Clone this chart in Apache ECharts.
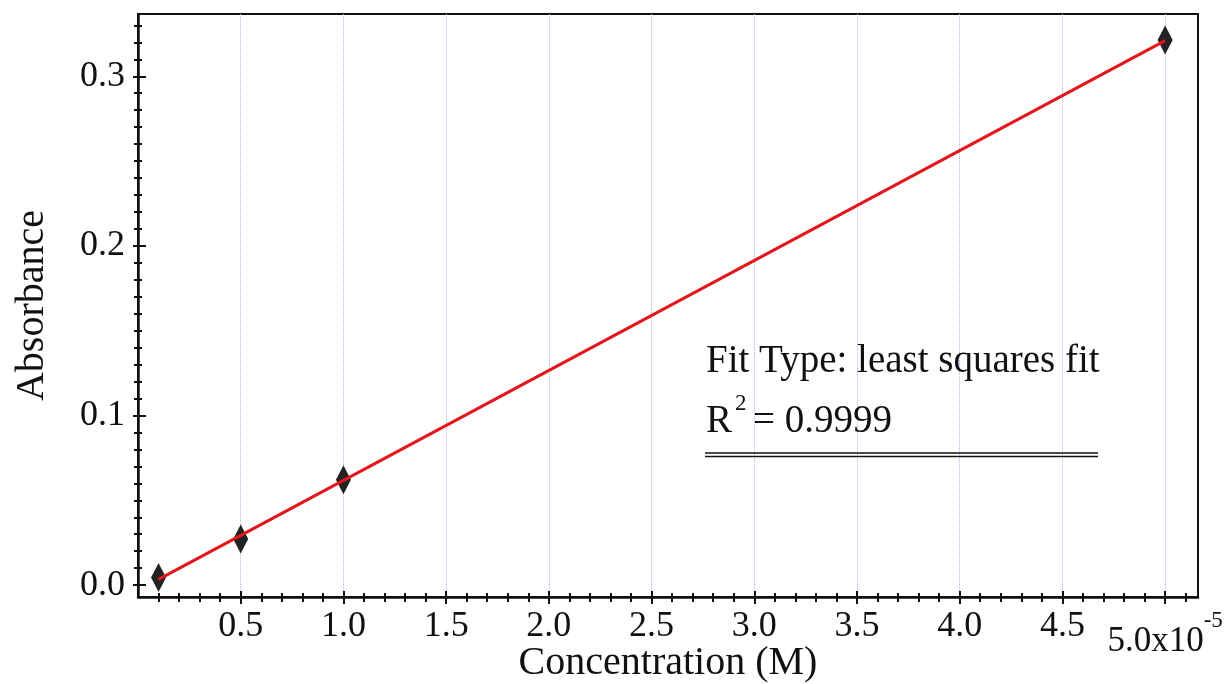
<!DOCTYPE html>
<html>
<head>
<meta charset="utf-8">
<script src="https://cdn.jsdelivr.net/npm/echarts@6/dist/echarts.min.js"></script>
<style>
html,body{margin:0;padding:0;background:#fff;}
#chart{width:1230px;height:684px;}
</style>
</head>
<body>
<div id="chart"></div>
<script>
// ---- data (concentration in units of 1e-5 M) ----
const concentration = [0.1, 0.5, 1.0, 5.0];
const absorbance = [0.0045, 0.0272, 0.0621, 0.3214];
const fitX = [0.1, 5.0];
const fitY = [0.0034, 0.3210];

// ---- tick labels ----
const xLabelValues = [0.5, 1.0, 1.5, 2.0, 2.5, 3.0, 3.5, 4.0, 4.5, 5.0];
const xLabelTexts = ['0.5', '1.0', '1.5', '2.0', '2.5', '3.0', '3.5', '4.0', '4.5', '5.0x10'];
const xExponent = '-5';
const yLabelValues = [0.0, 0.1, 0.2, 0.3];
const yLabelTexts = ['0.0', '0.1', '0.2', '0.3'];
const xAxisTitle = 'Concentration (M)';
const yAxisTitle = 'Absorbance';
const fitTypeText = 'Fit Type: least squares fit';
const rSquaredLabel = ['R', '2', '= 0.9999'];

// minor tick positions (axis decoration)
const xMinorTicks = [];
for (let i = 1; i <= 51; i++) xMinorTicks.push(+(i * 0.1).toFixed(2));
const yMinorTicks = [];
for (let i = 0; i <= 33; i++) yMinorTicks.push(+(i * 0.01).toFixed(3));

const FONT = "'Liberation Serif', 'DejaVu Serif', serif";
const INK = '#111';
const X_MIN = 0, X_MAX = 5.16, Y_MIN = -0.007, Y_MAX = 0.3367;

function xAxisDef(opts) {
  return Object.assign({
    type: 'value', position: 'bottom', min: X_MIN, max: X_MAX,
    axisLine: { show: false, onZero: false },
    axisLabel: { show: false },
    splitLine: { show: false }
  }, opts);
}
function yAxisDef(opts) {
  return Object.assign({
    type: 'value', position: 'left', min: Y_MIN, max: Y_MAX,
    axisLine: { show: false, onZero: false },
    axisLabel: { show: false },
    splitLine: { show: false }
  }, opts);
}

const chart = echarts.init(document.getElementById('chart'));
chart.setOption({
  animation: false,
  backgroundColor: '#fff',
  grid: {
    left: 138, right: 32, top: 14, bottom: 87,
    containLabel: false, outerBoundsMode: 'none',
    show: true, borderColor: INK, borderWidth: 2, backgroundColor: 'transparent'
  },
  xAxis: [
    xAxisDef({
      axisLine: { show: true, onZero: false, lineStyle: { color: INK, width: 2.5 } },
      axisTick: { show: true, inside: false, length: 5, lineStyle: { color: INK, width: 2 }, customValues: xMinorTicks },
      axisLabel: {
        show: true, customValues: xLabelValues, margin: 12,
        color: INK, fontFamily: FONT, fontSize: 36,
        formatter: function (v) {
          let idx = xLabelValues.findIndex(x => Math.abs(x - v) < 1e-6);
          if (idx < 0) return '';
          if (idx === xLabelValues.length - 1) {
            return '{m|' + xLabelTexts[idx] + '}{e|' + xExponent + '}';
          }
          return xLabelTexts[idx];
        },
        rich: {
          m: { fontFamily: FONT, fontSize: 35, lineHeight: 50, color: INK, verticalAlign: 'bottom' },
          e: { fontFamily: FONT, fontSize: 23, lineHeight: 23, color: INK, verticalAlign: 'top' }
        }
      },
      name: xAxisTitle, nameLocation: 'middle', nameGap: 46, nameMoveOverlap: false,
      nameTextStyle: { color: INK, fontFamily: FONT, fontSize: 40 }
    }),
    xAxisDef({ axisTick: { show: true, inside: true, length: 4, lineStyle: { color: INK, width: 2 }, customValues: xMinorTicks } }),
    xAxisDef({
      axisTick: { show: true, inside: false, length: 7, lineStyle: { color: INK, width: 2 }, customValues: xLabelValues },
      splitLine: { show: true, lineStyle: { color: '#b3b5e0', width: 1, type: 'dotted' } }
    }),
    xAxisDef({ axisTick: { show: true, inside: true, length: 6, lineStyle: { color: INK, width: 2 }, customValues: xLabelValues } })
  ],
  yAxis: [
    yAxisDef({
      axisLine: { show: true, onZero: false, lineStyle: { color: INK, width: 2.5 } },
      axisTick: { show: true, inside: false, length: 4, lineStyle: { color: INK, width: 2 }, customValues: yMinorTicks },
      axisLabel: {
        show: true, customValues: yLabelValues, margin: 13,
        color: INK, fontFamily: FONT, fontSize: 36, padding: [0, 0, 14, 0],
        formatter: function (v) {
          let idx = yLabelValues.findIndex(y => Math.abs(y - v) < 1e-6);
          return idx < 0 ? '' : yLabelTexts[idx];
        }
      },
      name: yAxisTitle, nameLocation: 'middle', nameGap: 86, nameRotate: 90, nameMoveOverlap: false,
      nameTextStyle: { color: INK, fontFamily: FONT, fontSize: 40 }
    }),
    yAxisDef({ axisTick: { show: true, inside: true, length: 4, lineStyle: { color: INK, width: 2 }, customValues: yMinorTicks } }),
    yAxisDef({ axisTick: { show: true, inside: false, length: 5, lineStyle: { color: INK, width: 2 }, customValues: yLabelValues } }),
    yAxisDef({ axisTick: { show: true, inside: true, length: 8, lineStyle: { color: INK, width: 2 }, customValues: yLabelValues } })
  ],
  series: [
    {
      type: 'scatter', xAxisIndex: 0, yAxisIndex: 0, z: 2,
      symbol: 'diamond', symbolSize: [15, 29],
      itemStyle: { color: '#222', opacity: 1 },
      data: concentration.map((c, i) => [c, absorbance[i]])
    },
    {
      type: 'line', xAxisIndex: 0, yAxisIndex: 0, z: 3,
      showSymbol: false, symbol: 'none',
      lineStyle: { color: '#e3161c', width: 3 },
      data: fitX.map((c, i) => [c, fitY[i]])
    }
  ],
  graphic: [
    {
      type: 'text', left: 706, top: 342, z: 10,
      style: { text: fitTypeText, font: '39px ' + FONT, fill: INK }
    },
    {
      type: 'text', left: 706, top: 402, z: 10,
      style: { text: rSquaredLabel[0], font: '39px ' + FONT, fill: INK }
    },
    {
      type: 'text', left: 735, top: 392, z: 10,
      style: { text: rSquaredLabel[1], font: '23px ' + FONT, fill: INK }
    },
    {
      type: 'text', left: 753, top: 402, z: 10,
      style: { text: rSquaredLabel[2], font: '39px ' + FONT, fill: INK }
    },
    {
      type: 'line', z: 10,
      shape: { x1: 705, y1: 453, x2: 1098, y2: 453 },
      style: { stroke: INK, lineWidth: 1.3 }
    },
    {
      type: 'line', z: 10,
      shape: { x1: 705, y1: 456.5, x2: 1098, y2: 456.5 },
      style: { stroke: INK, lineWidth: 1.3 }
    }
  ]
});
</script>
</body>
</html>
